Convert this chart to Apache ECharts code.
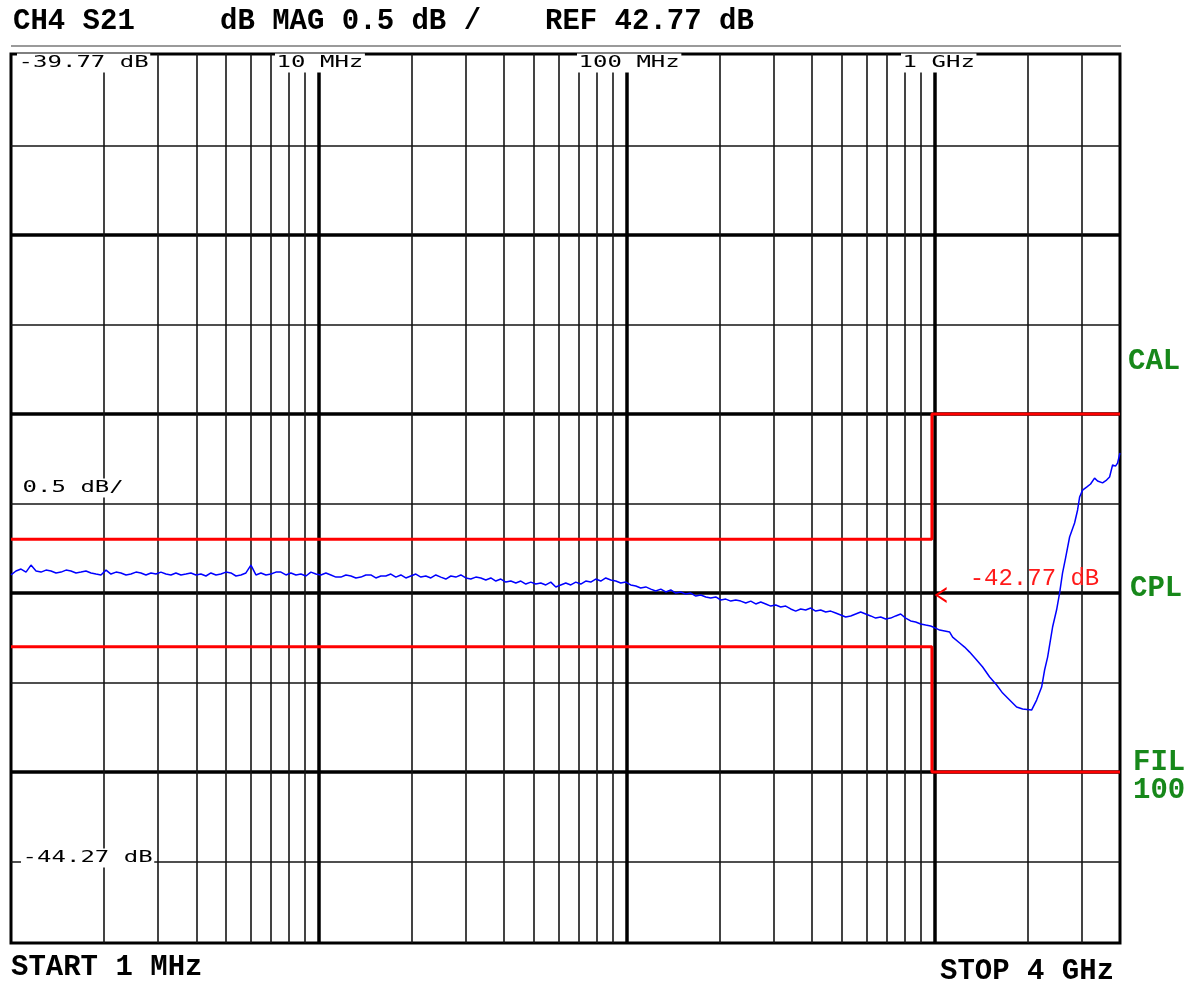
<!DOCTYPE html>
<html>
<head>
<meta charset="utf-8">
<script src="https://cdn.jsdelivr.net/npm/echarts@6/dist/echarts.min.js"></script>
<style>
  html, body { margin: 0; padding: 0; background: #fff; }
</style>
</head>
<body>
<div id="main" style="width: 1194px; height: 982px"></div>
<script>
// sweep points (MHz)
const freqMHz = [
  1.000, 1.038, 1.078, 1.119, 1.161, 1.206, 1.252, 1.299, 1.349, 1.400,
  1.454, 1.509, 1.566, 1.626, 1.688, 1.752, 1.819, 1.888, 1.960, 2.035,
  2.112, 2.193, 2.276, 2.363, 2.453, 2.546, 2.643, 2.744, 2.848, 2.957,
  3.069, 3.186, 3.307, 3.433, 3.564, 3.700, 3.841, 3.987, 4.139, 4.297,
  4.461, 4.631, 4.807, 4.990, 5.180, 5.378, 5.582, 5.795, 6.016, 6.245,
  6.483, 6.730, 6.986, 7.252, 7.529, 7.816, 8.113, 8.423, 8.743, 9.076,
  9.422, 9.778, 10.15, 10.54, 10.94, 11.36, 11.79, 12.24, 12.71, 13.19,
  13.69, 14.21, 14.75, 15.31, 15.90,
  16.50, 17.13, 17.78, 18.46, 19.16, 19.89, 20.65, 21.44, 22.25, 23.10,
  23.98, 24.89, 25.84, 26.83, 27.85, 28.91, 30.01, 31.15, 32.34, 33.57,
  34.85, 36.18, 37.56, 38.99, 40.48, 42.02, 43.62, 45.28, 47.00, 48.79,
  50.65, 52.58, 54.58, 56.66, 58.82, 61.05, 63.38, 65.79, 68.30, 70.90,
  73.60, 76.40, 79.31, 82.34, 85.47, 88.73, 92.11, 95.62, 99.25, 103.0,
  107.0, 111.0, 115.3, 119.7, 124.2, 129.0, 133.9, 139.0, 144.3, 149.8,
  155.5, 161.4, 167.6, 173.9, 180.6, 187.4, 194.6, 202.0, 209.7, 217.7,
  226.0, 234.6, 243.5, 252.8, 262.4, 272.4, 282.8, 293.6, 304.7, 316.2,
  328.3, 340.8, 353.8, 367.2, 381.2, 395.8, 410.8, 426.5, 442.7, 459.6,
  477.1, 495.3, 514.1, 533.7, 554.1, 575.2, 597.1, 619.8, 643.4, 667.9,
  693.4, 719.7, 747.2, 775.6, 805.2, 835.8, 867.7, 900.7, 935.0, 970.5,
  1007.5,
  1038, 1078, 1119, 1144, 1206, 1251, 1299, 1369, 1432, 1509,
  1590, 1663, 1752, 1846, 1931, 2065, 2144, 2226, 2276, 2328,
  2416, 2489, 2546, 2603, 2663, 2744, 2848, 2913, 2957, 3024,
  3116, 3210, 3307, 3382, 3511, 3618, 3700, 3784, 3868, 3927,
  4000
];
// S21 magnitude (dB)
const s21dB = [
  -42.669, -42.647, -42.636, -42.653, -42.614, -42.647, -42.653, -42.642, -42.647, -42.658,
  -42.653, -42.642, -42.647, -42.658, -42.653, -42.647, -42.658, -42.664, -42.669, -42.642,
  -42.664, -42.653, -42.658, -42.669, -42.664, -42.653, -42.658, -42.669, -42.658, -42.664,
  -42.653, -42.664, -42.669, -42.658, -42.669, -42.664, -42.658, -42.669, -42.664, -42.675,
  -42.658, -42.669, -42.664, -42.653, -42.658, -42.675, -42.669, -42.658, -42.614, -42.669,
  -42.658, -42.669, -42.664, -42.653, -42.653, -42.669, -42.658, -42.669, -42.664, -42.675,
  -42.653, -42.664, -42.669, -42.658, -42.669, -42.681, -42.681, -42.669, -42.675, -42.686,
  -42.681, -42.669, -42.669, -42.686, -42.675,
  -42.675, -42.664, -42.681, -42.669, -42.686, -42.675, -42.664, -42.681, -42.675, -42.686,
  -42.669, -42.681, -42.692, -42.675, -42.681, -42.669, -42.686, -42.692, -42.681, -42.686,
  -42.697, -42.686, -42.703, -42.692, -42.709, -42.703, -42.714, -42.703, -42.720, -42.709,
  -42.720, -42.714, -42.725, -42.709, -42.736, -42.725, -42.714, -42.725, -42.709, -42.720,
  -42.703, -42.709, -42.692, -42.703, -42.686, -42.697, -42.703, -42.714, -42.709, -42.725,
  -42.731, -42.742, -42.736, -42.748, -42.759, -42.748, -42.764, -42.753, -42.770, -42.764,
  -42.776, -42.770, -42.787, -42.781, -42.792, -42.798, -42.792, -42.809, -42.804, -42.815,
  -42.809, -42.815, -42.826, -42.815, -42.831, -42.820, -42.831, -42.843, -42.837, -42.848,
  -42.843, -42.859, -42.871, -42.859, -42.865, -42.854, -42.871, -42.865, -42.876, -42.871,
  -42.882, -42.893, -42.904, -42.898, -42.887, -42.876, -42.887, -42.898, -42.910, -42.904,
  -42.915, -42.910, -42.898, -42.887, -42.910, -42.926, -42.932, -42.943, -42.949, -42.954,
  -42.966,
  -42.977, -42.982, -42.988, -43.016, -43.049, -43.072, -43.100, -43.144, -43.183, -43.239,
  -43.284, -43.329, -43.368, -43.407, -43.418, -43.424, -43.368, -43.295, -43.200, -43.128,
  -42.960, -42.865, -42.770, -42.658, -42.574, -42.457, -42.379, -42.306, -42.234, -42.195,
  -42.178, -42.161, -42.128, -42.144, -42.155, -42.139, -42.122, -42.055, -42.061, -42.044,
  -41.988
];

// limit lines (step sits just left of the 1 GHz line)
const limitFreq = [1, 980, 980, 4000];
const upperLimitDb = [-42.47, -42.47, -41.77, -41.77];
const lowerLimitDb = [-43.07, -43.07, -43.77, -43.77];

// graticule
const minorDbLines = [-40.27, -41.27, -42.27, -43.27, -44.27];
const majorDbLines = [-40.77, -41.77, -42.77, -43.77];
const minorFreqLines = [2, 3, 4, 5, 6, 7, 8, 9, 20, 30, 40, 50, 60, 70, 80, 90,
  200, 300, 400, 500, 600, 700, 800, 900, 2000, 3000];
const majorFreqLines = [10, 100, 1000];

const refDb = -42.77;
const markerFreq = 1000;

let trace = freqMHz.map((f, i) => [f, s21dB[i]]);
let upper = limitFreq.map((f, i) => [f, upperLimitDb[i]]);
let lower = limitFreq.map((f, i) => [f, lowerLimitDb[i]]);

let gridLines = [];
for (let v of minorDbLines) gridLines.push({ yAxis: v, lineStyle: { width: 1.6, color: "#151515" } });
for (let v of majorDbLines) gridLines.push({ yAxis: v, lineStyle: { width: 3.5, color: "#000" } });
for (let v of minorFreqLines) gridLines.push({ xAxis: v, lineStyle: { width: 1.6, color: "#151515" } });
for (let v of majorFreqLines) gridLines.push({ xAxis: v, lineStyle: { width: 3.5, color: "#000" } });

const smallFont = '15px "DejaVu Sans Mono"';
const bigFont = 'bold 29px "Liberation Mono"';

function txt(text, x, y, font, fill, extra) {
  return Object.assign({
    type: "text",
    x: x,
    y: y,
    z: 100,
    silent: true,
    style: { text: text, font: font, fill: fill, align: "left", verticalAlign: "middle" },
  }, extra || {});
}
// small graticule labels sit on a white patch that cuts the grid lines
function boxTxt(text, x, y) {
  let t = txt(text, x, y, smallFont, "#000", { scaleX: 1.6 });
  t.style.backgroundColor = "#fff";
  t.style.padding = [2, 1, 2, 1];
  return t;
}

let option = {
  animation: false,
  backgroundColor: "#fff",
  grid: {
    left: 11,
    top: 54,
    width: 1109,
    height: 889,
    show: true,
    borderColor: "#000",
    borderWidth: 3,
    backgroundColor: "#fff",
    outerBoundsMode: "none",
  },
  xAxis: {
    type: "log",
    logBase: 10,
    min: 1,
    max: 4000,
    axisLine: { show: false },
    axisTick: { show: false },
    axisLabel: { show: false },
    splitLine: { show: false },
  },
  yAxis: {
    type: "value",
    min: -44.725,
    max: -39.759,
    axisLine: { show: false },
    axisTick: { show: false },
    axisLabel: { show: false },
    splitLine: { show: false },
  },
  graphic: [
    { type: "line", z: 100, silent: true, shape: { x1: 11, y1: 46, x2: 1121, y2: 46 }, style: { stroke: "#9a9a9a", lineWidth: 2 } },
    txt("CH4 S21", 13, 22, bigFont, "#000"),
    txt("dB MAG 0.5 dB /", 220, 22, bigFont, "#000"),
    txt("REF 42.77 dB", 545, 22, bigFont, "#000"),
    txt("START 1 MHz", 11, 968, bigFont, "#000"),
    txt("STOP 4 GHz", 940, 972, bigFont, "#000"),
    txt("CAL", 1128, 362, bigFont, "#17881a"),
    txt("CPL", 1130, 589, bigFont, "#17881a"),
    txt("FIL", 1133, 763, bigFont, "#17881a"),
    txt("100", 1133, 791, bigFont, "#17881a"),
    boxTxt("-39.77 dB", 17, 63),
    boxTxt("10 MHz", 275, 63),
    boxTxt("100 MHz", 577, 63),
    boxTxt("1 GHz", 901, 63),
    boxTxt("0.5 dB/", 21, 488),
    boxTxt("-44.27 dB", 21, 858),
  ],
  series: [
    {
      name: "graticule",
      type: "line",
      data: [],
      z: 1,
      silent: true,
      markLine: {
        z: 1,
        silent: true,
        symbol: ["none", "none"],
        label: { show: false },
        lineStyle: { type: "solid" },
        emphasis: { disabled: true },
        data: gridLines,
      },
    },
    {
      name: "upper limit",
      type: "line",
      data: upper,
      z: 3,
      symbol: "none",
      silent: true,
      lineStyle: { color: "#ff0000", width: 3 },
    },
    {
      name: "lower limit",
      type: "line",
      data: lower,
      z: 3,
      symbol: "none",
      silent: true,
      lineStyle: { color: "#ff0000", width: 3 },
    },
    {
      name: "S21",
      type: "line",
      data: trace,
      z: 4,
      symbol: "none",
      silent: true,
      lineStyle: { color: "#0000ff", width: 1.5 },
      markPoint: {
        z: 5,
        silent: true,
        symbol: "path://M12,0 L0,8 L12,16 L12,13.5 L3.5,8 L12,2.5 Z",
        symbolSize: [12, 16],
        symbolOffset: [6, 2],
        itemStyle: { color: "#ff0000" },
        label: {
          show: true,
          position: [35, -20],
          formatter: "-42.77 dB",
          color: "#ff1a1a",
          fontFamily: "Liberation Mono",
          fontSize: 24,
        },
        data: [{ coord: [markerFreq, refDb] }],
      },
    },
  ],
};

var myChart = echarts.init(document.getElementById("main"));
option && myChart.setOption(option);
</script>
</body>
</html>
